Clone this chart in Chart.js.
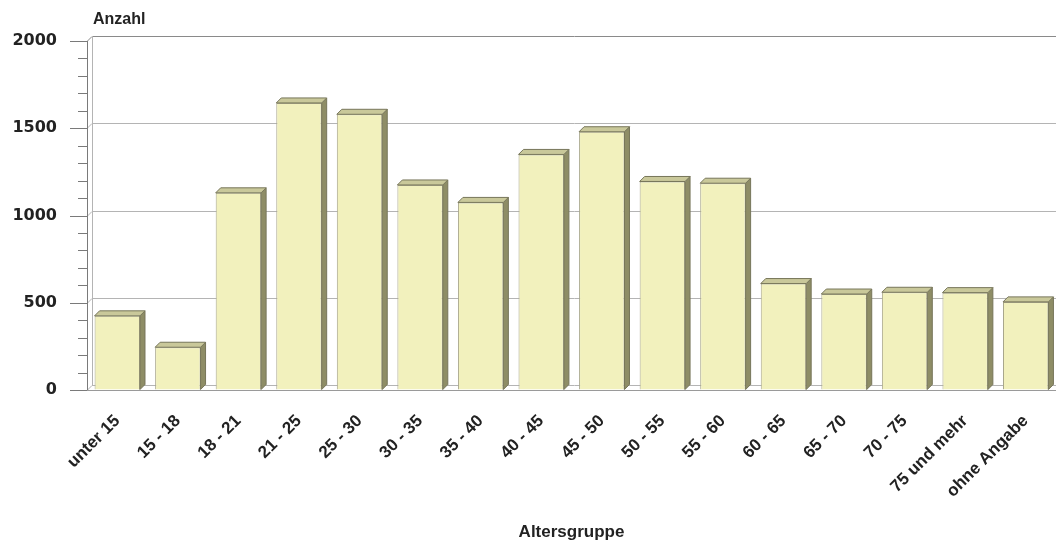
<!DOCTYPE html>
<html>
<head>
<meta charset="utf-8">
<script src="https://cdn.jsdelivr.net/npm/chart.js@4.4.1/dist/chart.umd.min.js"></script>
<style>
    html, body { margin: 0; padding: 0; background: #fff; }
    #wrap { width: 1056px; height: 544px; }
</style>
</head>
<body>
<div id="wrap"><canvas id="graficoAlter"></canvas></div>
<script>
const altersgruppen = ['unter 15', '15 - 18', '18 - 21', '21 - 25', '25 - 30', '30 - 35', '35 - 40', '40 - 45',
    '45 - 50', '50 - 55', '55 - 60', '60 - 65', '65 - 70', '70 - 75', '75 und mehr', 'ohne Angabe'];
const anzahl = [425, 245, 1130, 1645, 1580, 1175, 1075, 1350, 1480, 1195, 1185, 610, 550, 560, 558, 505];
const yMax = 2000;
const yStep = 500;
const yMinorStep = 100;

const tiefe = 5; // 3D-Tiefe der Saeulen

// Rueckwand, Boden, Achse und kleine Striche
const wandPlugin = {
    id: 'wand',
    beforeDatasetsDraw(chart) {
        const { ctx, chartArea: a, scales: { y } } = chart;
        ctx.save();
        ctx.lineWidth = 1;

        for (let v = 0; v <= yMax; v += yStep) {
            const py = Math.round(y.getPixelForValue(v)) + 0.5;
            ctx.strokeStyle = v === yMax ? '#8a8a8a' : '#b4b4b4';
            ctx.beginPath();
            ctx.moveTo(a.left, py);
            ctx.lineTo(a.left + tiefe, py - tiefe);
            ctx.lineTo(a.right + 10, py - tiefe);
            ctx.stroke();
        }

        // Rueckwand links
        ctx.strokeStyle = '#b4b4b4';
        ctx.beginPath();
        ctx.moveTo(a.left + tiefe + 0.5, a.top - tiefe);
        ctx.lineTo(a.left + tiefe + 0.5, a.bottom - tiefe);
        ctx.stroke();

        // Boden vorne
        ctx.strokeStyle = '#9a9a9a';
        ctx.beginPath();
        ctx.moveTo(a.left, Math.round(a.bottom) + 0.5);
        ctx.lineTo(a.right + 10, Math.round(a.bottom) + 0.5);
        ctx.stroke();

        // y-Achse
        ctx.strokeStyle = '#7a7a7a';
        ctx.beginPath();
        ctx.moveTo(a.left + 0.5, a.top);
        ctx.lineTo(a.left + 0.5, a.bottom);
        ctx.stroke();

        for (let v = 0; v <= yMax; v += yMinorStep) {
            const py = Math.round(y.getPixelForValue(v)) + 0.5;
            const len = v % yStep === 0 ? 17 : 9;
            ctx.beginPath();
            ctx.moveTo(a.left - len, py);
            ctx.lineTo(a.left, py);
            ctx.stroke();
        }
        ctx.restore();
    },
    afterDatasetsDraw(chart) {
        const { ctx } = chart;
        const meta = chart.getDatasetMeta(0);
        ctx.save();
        ctx.lineWidth = 1;
        ctx.strokeStyle = '#77765a';
        meta.data.forEach(bar => {
            const { x, y, base, width } = bar.getProps(['x', 'y', 'base', 'width'], true);
            const l = x - width / 2;
            const r = x + width / 2;

            // Seite
            ctx.fillStyle = '#8e8d66';
            ctx.beginPath();
            ctx.moveTo(r, y);
            ctx.lineTo(r + tiefe, y - tiefe);
            ctx.lineTo(r + tiefe, base - tiefe);
            ctx.lineTo(r, base);
            ctx.closePath();
            ctx.fill();
            ctx.stroke();

            // Deckel
            ctx.fillStyle = '#c9c89a';
            ctx.beginPath();
            ctx.moveTo(l, y);
            ctx.lineTo(l + tiefe, y - tiefe);
            ctx.lineTo(r + tiefe, y - tiefe);
            ctx.lineTo(r, y);
            ctx.closePath();
            ctx.fill();
            ctx.stroke();
        });
        ctx.restore();
    },
    afterDraw(chart) {
        const { ctx, chartArea: a } = chart;
        ctx.save();
        ctx.fillStyle = '#222';
        ctx.font = 'bold 16px "Liberation Sans", Arial, sans-serif';
        ctx.textBaseline = 'middle';
        ctx.fillText('Anzahl', a.left + 6, a.top - 21);
        ctx.restore();
    }
};

function criarGrafico() {
    const ctx = document.getElementById('graficoAlter').getContext('2d');

    new Chart(ctx, {
        type: 'bar',
        data: {
            labels: altersgruppen,
            datasets: [{
                data: anzahl,
                backgroundColor: '#f2f1bd',
                borderColor: '#a9a78c',
                borderWidth: 1,
                barPercentage: 0.75,
                categoryPercentage: 1
            }]
        },
        options: {
            responsive: true,
            maintainAspectRatio: false,
            animation: false,
            layout: { padding: { top: 41, right: -4, bottom: 0, left: 0 } },
            plugins: {
                legend: { display: false },
                tooltip: { enabled: false }
            },
            scales: {
                x: {
                    grid: { display: false, drawTicks: false },
                    border: { display: false },
                    ticks: {
                        autoSkip: false,
                        maxRotation: 45,
                        minRotation: 45,
                        padding: 21,
                        color: '#222',
                        font: { family: '"Liberation Sans", Arial, sans-serif', size: 17, weight: 'bold' }
                    },
                    title: {
                        display: true,
                        text: 'Altersgruppe',
                        color: '#222',
                        padding: { top: 0, bottom: 1 },
                        font: { family: '"Liberation Sans", Arial, sans-serif', size: 17, weight: 'bold' }
                    },
                    afterFit(scale) {
                        scale.height = 154;
                        scale.paddingLeft = 0;
                        scale.paddingRight = 0;
                    }
                },
                y: {
                    min: 0,
                    max: yMax,
                    grid: { drawOnChartArea: false, drawTicks: true, tickLength: 17, color: 'transparent', tickColor: 'transparent' },
                    border: { display: false },
                    ticks: {
                        stepSize: yStep,
                        padding: 13,
                        color: '#222',
                        callback: value => String(value),
                        font: { family: '"DejaVu Sans", sans-serif', size: 16, weight: 'bold' }
                    },
                    afterFit(scale) { scale.width = 87; }
                }
            }
        },
        plugins: [wandPlugin]
    });
}

window.addEventListener('DOMContentLoaded', criarGrafico);
</script>
</body>
</html>
